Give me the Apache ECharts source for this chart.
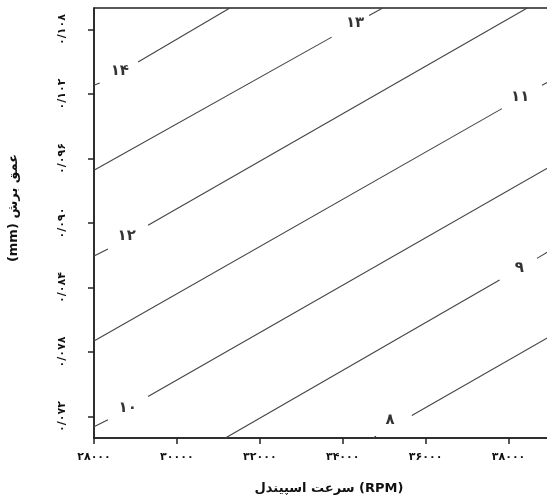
<!DOCTYPE html>
<html>
<head>
<meta charset="utf-8">
<script src="https://cdn.jsdelivr.net/npm/echarts@6/dist/echarts.min.js"></script>
<style>
html,body{margin:0;padding:0;background:#fff;}
#chart{width:547px;height:502px;}
</style>
</head>
<body>
<div id="chart"></div>
<script>
// Axis ticks and labels
const xTicks = [28000, 30000, 32000, 34000, 36000, 38000];
const xTickLabels = ['۲۸۰۰۰', '۳۰۰۰۰', '۳۲۰۰۰', '۳۴۰۰۰', '۳۶۰۰۰', '۳۸۰۰۰'];
const yTicks = [0.072, 0.078, 0.084, 0.090, 0.096, 0.102, 0.108];
const yTickLabels = ['۰/۰۷۲', '۰/۰۷۸', '۰/۰۸۴', '۰/۰۹۰', '۰/۰۹۶', '۰/۱۰۲', '۰/۱۰۸'];

// Contour lines (spindle speed RPM, depth of cut mm); null = gap for the level label
const contour14 = [[28000, 0.10281], [28138, 0.10302], null, [29063, 0.10497], [31278, 0.110]];
const contour13 = [[28000, 0.09491], [33734, 0.10729], null, [34635, 0.10931], [34966, 0.110]];
const contour12 = [[28000, 0.08693], [28338, 0.08758], null, [29304, 0.08980], [38452, 0.110]];
const contour11 = [[28000, 0.07903], [37841, 0.10064], null, [38807, 0.10281], [39000, 0.10321]];
const contour10 = [[28000, 0.07104], [28338, 0.07169], null, [29304, 0.07386], [39000, 0.09525]];
const contour9  = [[31169, 0.070], [37783, 0.08470], null, [38686, 0.08671], [39000, 0.08743]];
const contour8  = [[34732, 0.070], [34804, 0.07017], null, [35667, 0.07209], [39000, 0.07946]];

const contourLines = [contour14, contour13, contour12, contour11, contour10, contour9, contour8];
const levelLabels = ['۱۴', '۱۳', '۱۲', '۱۱', '۱۰', '۹', '۸'];
const labelX = [28623, 34297, 28790, 38283, 28814, 38258, 35143];
const labelY = [0.10409, 0.10857, 0.08878, 0.10169, 0.07281, 0.08581, 0.07169];

const series = [];
contourLines.forEach(function (pts) {
  let seg = [];
  pts.concat([null]).forEach(function (p) {
    if (p === null) {
      if (seg.length) {
        series.push({
          type: 'line', data: seg, symbol: 'none', clip: true, silent: true,
          lineStyle: { color: '#444', width: 1.1 }
        });
      }
      seg = [];
    } else {
      seg.push(p);
    }
  });
});
series.push({
  type: 'scatter',
  symbolSize: 0,
  silent: true,
  data: labelX.map(function (x, i) { return [x, labelY[i], levelLabels[i]]; }),
  label: {
    show: true, position: 'inside',
    formatter: function (p) { return p.data[2]; },
    color: '#000', fontFamily: 'DejaVu Sans', fontWeight: 'bold', fontSize: 15
  }
});

function fmtX(v) { const i = xTicks.indexOf(v); return i >= 0 ? xTickLabels[i] : ''; }
function fmtY(v) {
  for (let i = 0; i < yTicks.length; i++) { if (Math.abs(yTicks[i] - v) < 1e-7) return yTickLabels[i]; }
  return '';
}

const chart = echarts.init(document.getElementById('chart'), null, { renderer: 'canvas' });
chart.setOption({
  animation: false,
  backgroundColor: '#fff',
  grid: {
    left: 94, top: 8, width: 456, height: 430,
    outerBoundsMode: 'none', containLabel: false,
    show: true, borderColor: '#222', borderWidth: 1.5, backgroundColor: 'transparent'
  },
  xAxis: {
    type: 'value', min: 28000, max: 39000, interval: 2000,
    axisLine: { show: true, lineStyle: { color: '#222', width: 1.5 } },
    axisTick: { show: true, length: 6, customValues: xTicks, lineStyle: { color: '#222', width: 1.5 } },
    splitLine: { show: false },
    axisLabel: {
      margin: 14, color: '#111', fontFamily: 'DejaVu Sans', fontWeight: 'bold', fontSize: 11,
      customValues: xTicks, formatter: fmtX
    },
    name: 'سرعت اسپیندل (RPM)', nameLocation: 'middle', nameGap: 44,
    nameTextStyle: { color: '#111', fontFamily: 'DejaVu Sans', fontWeight: 'bold', fontSize: 13, padding: [0, 0, 0, 14] }
  },
  yAxis: {
    type: 'value', min: 0.070, max: 0.110,
    axisLine: { show: true, lineStyle: { color: '#222', width: 1.5 } },
    axisTick: { show: true, length: 6, customValues: yTicks, lineStyle: { color: '#222', width: 1.5 } },
    splitLine: { show: false },
    axisLabel: {
      rotate: 90, margin: 26, color: '#111', fontFamily: 'DejaVu Sans', fontWeight: 'bold', fontSize: 11,
      customValues: yTicks, formatter: fmtY
    },
    name: '\u202Bعمق برش (mm)\u202C', nameLocation: 'middle', nameGap: 74, nameRotate: 90,
    nameTextStyle: { color: '#111', fontFamily: 'DejaVu Sans', fontWeight: 'bold', fontSize: 13, padding: [0, 0, 0, 30] }
  },
  series: series
});
</script>
</body>
</html>
